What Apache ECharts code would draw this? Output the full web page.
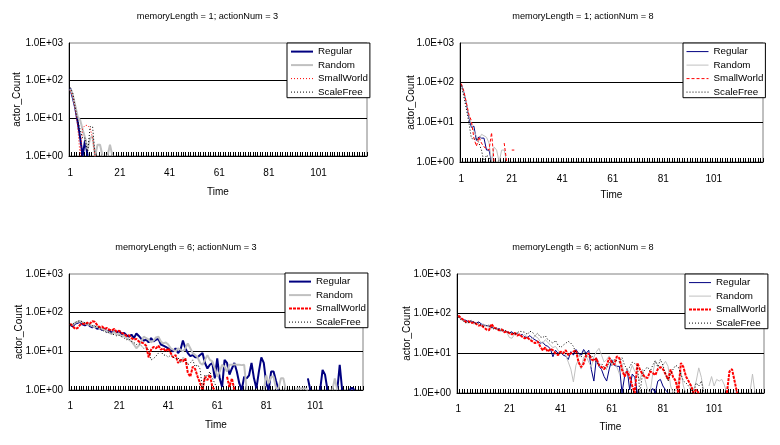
<!DOCTYPE html>
<html><head><meta charset="utf-8">
<script src="https://cdn.jsdelivr.net/npm/echarts@6/dist/echarts.min.js"></script>
<style>html,body{margin:0;padding:0;background:#fff}#c{width:780px;height:445px}</style>
</head><body><div id="c"></div>
<script>
const categories = [1,2,3,4,5,6,7,8,9,10,11,12,13,14,15,16,17,18,19,20,21,22,23,24,25,26,27,28,29,30,31,32,33,34,35,36,37,38,39,40,41,42,43,44,45,46,47,48,49,50,51,52,53,54,55,56,57,58,59,60,61,62,63,64,65,66,67,68,69,70,71,72,73,74,75,76,77,78,79,80,81,82,83,84,85,86,87,88,89,90,91,92,93,94,95,96,97,98,99,100,101,102,103,104,105,106,107,108,109,110,111,112,113,114,115,116,117,118,119,120];
const yTickLabels = ['1.0E+00','1.0E+01','1.0E+02','1.0E+03'];
const seriesNames = ['Regular','Random','SmallWorld','ScaleFree'];
const panelTitles = ['memoryLength = 1; actionNum = 3','memoryLength = 1; actionNum = 8','memoryLength = 6; actionNum = 3','memoryLength = 6; actionNum = 8'];
const xAxisName = 'Time';
const yAxisName = 'actor_Count';

// memoryLength = 1; actionNum = 3
const p1Regular = [62,36,19,8,3,1,2.7,1];
const p1Random = [60,42,22,11,9,5,3,1.5,3,3.3,1,2,2,1,null,1,2,1];
const p1SmallWorld = [55,40,18,6,1,5.5,6.5,6.5,5.5,3,1];
const p1ScaleFree = [66,48,20,9,5,3,3,1.2,6,6,1];

// memoryLength = 1; actionNum = 8
const p2Regular = [92,58,30,13.5,7.5,8,3.5,4.3,4,4,2,2,1];
const p2Random = [88,55,30,15,9,6,4.5,3.5,5,4.6,4.2,3,1,2.4,2,1,2,2,1];
const p2SmallWorld = [95,62,32,16,11,4,2.5,4.3,3,2.4,2.2,2,5.5,1,null,null,null,3,1,null,2,2];
const p2ScaleFree = [85,45,22,10,4,3.7,4,3,2,1,1.5,1.3,1];

// memoryLength = 6; actionNum = 3
const p3Regular = [48,44,52,55,58,50,47,52,45,42,
 44,38,40,36,38,32,35,30,33,31,
 34,28,30,26,24,27,22,29,25,21,
 19,20,17,22,18,20,21,15,14,13,
 12,11,10,12,9,11,19,12,9,7.5,
 8,7,7,8,9,5,3.6,4.5,5,2,
 6.6,2,1.2,6,5,2.5,3.6,5,3,1.5,
 1,2.2,2,2.4,5,2,1.1,3,7,5,
 1.5,1,3,3,1.7,1,null,null,null,null,
 null,null,null,null,null,null,null,2,1,null,
 null,null,1,3.3,2.5,1,null,null,null,1,
 4.5,1,null,null,1,1.15,1];
const p3Random = [50,48,55,58,60,56,52,50,48,45,
 42,44,40,38,36,33,30,28,32,27,
 28,24,26,22,20,18,15,12,14,18,
 24,22,20,17,19,23,24,18,16,17,
 15,12,11,10,12,11,10,12,16,12,
 9,8,7,5,4.5,6,8,6,5.5,3.6,
 2.2,3,4.5,4,3,4.5,4.5,4.6,4.5,4.5,
 4.4,4.5,1,null,null,null,null,null,null,1,
 2.4,1.5,2.2,2.2,1.1,1.1,2,2,1,null,
 null,null,1.1,1.1,1.1,1.1,1.1,1,null,null,
 null,null,null,null,null,null,null,1,2,1];
const p3SmallWorld = [52,45,38,40,48,52,50,55,52,60,
 58,48,42,44,38,40,36,35,38,32,
 34,30,28,25,26,22,20,21,18,17,
 16,14,7,11,13,12,14,11,12,10,
 12,9,7,8,5,6,5.5,6.6,2.8,2.2,
 4,3.5,2.2,1.5,1,2.2,1.8,2.5,1.2,1,
 null,null,null,null,2.2,1.2,2,1];
const p3ScaleFree = [48,50,55,60,62,58,55,50,48,46,
 44,42,40,35,33,30,32,28,27,25,
 26,24,22,20,21,18,17,15,16,14,
 12,13,11,6,6.5,7.5,9,10,8,8,
 7,8,7,6.5,7,5,7,6,4.5,5,
 6,4,4.5,3.5,1,2.5,2.2,3,2,1.5,
 1];

// memoryLength = 6; actionNum = 8
const p4Regular = [88,75,70,68,62,65,60,58,62,55,
 52,50,48,45,44,40,42,38,36,35,
 33,35,30,32,28,30,26,25,28,24,
 22,20,18,19,16,15,13,8.2,12,10,
 11,9,8.5,7,11,9,12.5,10,9,12.5,
 10,12,3.9,2,7.7,4.7,3.9,2.6,2,4,
 6.9,5,4.7,4.7,1,2.6,4,1.2,3,2.5,
 1,null,null,null,null,1,1.3,1,2,2.2,
 1.5,1.2,1];
const p4Random = [85,72,66,60,58,62,55,60,52,50,
 55,48,46,42,45,40,38,42,36,33,
 25,24,30,34,28,26,30,25,22,24,
 27,25,20,18,22,19,16,14,15,12,
 10,11,9,6,4,1.9,5,7,4,8,
 8.5,6,4.5,8,11,13.4,9,6,7,8.6,
 5,6.5,4.5,3,5.5,2.6,4,3.2,5,3.5,
 3,2,4,2.2,1.2,1,3,6.5,5,4,
 5,6.3,4.7,1.5,1,1.2,2,3.5,1.5,1,
 null,1.5,1.2,2,4.3,2.5,1,null,1.5,2.6,
 1.5,2.2,2,2.2,1.6,1,null,null,1.2,1,
 null,null,null,null,1,3,1];
const p4SmallWorld = [90,78,70,62,65,58,60,55,50,52,
 45,40,38,55,44,42,38,40,34,36,
 32,30,33,28,30,26,24,25,22,20,
 18,20,15,12,14,11,13,12,10,9,
 11,10,12,9,10,11,12,6,4.5,5.5,
 9,10,7,6.5,7.5,5,4.5,4,5,7.7,
 6,5.2,8.4,7.5,3.9,2.6,3.5,2.6,1.5,1,
 5.7,3.9,3,2.5,2.4,3.5,3.2,2.8,4,4.5,
 4,3,2.2,3.9,2.5,2,1,5.7,4.5,2.6,
 2,1.5,1,1.2,1,null,null,null,null,null,
 null,null,null,null,null,1,3.5,4,2,1];
const p4ScaleFree = [82,70,65,58,60,68,62,55,58,50,
 48,50,52,46,40,44,38,36,40,35,
 32,34,30,33,36,35,34,30,36,34,
 28,32,26,25,28,22,20,18,21,16,
 14,16,18,20,18,15,10,9,8,11,
 9,8,9,7,6,5,5.5,4.5,4,6,
 5,7,6.5,6,7.8,5,4,4.5,6,5.5,
 5,1,3,4,4.5,3.5,5,6.5,4.5,7,
 5,3,2,3,4,5,4.5,3,2,1.8,
 1.5,1.2,1,1.8,1.5,2,1];

const FONT = 'Liberation Sans, Arial, sans-serif';
const NAVY = '#000080', GRAY = '#C0C0C0', RED = '#FF0000', BLACK = '#000000';
const thickStyles = [
  {color: NAVY, width: 2, type: 'solid'},
  {color: GRAY, width: 2, type: 'solid'},
  {color: RED, width: 1, type: [1, 2]},
  {color: BLACK, width: 1, type: [1, 2]}
];
const thinStyles = [
  {color: NAVY, width: 1, type: 'solid'},
  {color: GRAY, width: 1, type: 'solid'},
  {color: RED, width: 1, type: [3, 2]},
  {color: BLACK, width: 1, type: [1, 2]}
];
const p3Styles = [
  {color: NAVY, width: 2, type: 'solid'},
  {color: GRAY, width: 2, type: 'solid'},
  {color: RED, width: 2, type: [3, 1]},
  {color: BLACK, width: 1, type: [1, 2]}
];
const p4Styles = [
  {color: NAVY, width: 1, type: 'solid'},
  {color: GRAY, width: 1, type: 'solid'},
  {color: RED, width: 2, type: [3, 1]},
  {color: BLACK, width: 1, type: [1, 2]}
];

const panels = [
  {grid: {left: 69, top: 43, width: 298, height: 113}, title: [207.5, 16], legend: [287, 43], yGap: 47, xGap: 31, xMargin: 12,
   data: [p1Regular, p1Random, p1SmallWorld, p1ScaleFree], styles: thickStyles},
  {grid: {left: 460, top: 43, width: 303, height: 119}, title: [583, 16], legend: [683, 43], yGap: 44, xGap: 28.5, xMargin: 12.5,
   data: [p2Regular, p2Random, p2SmallWorld, p2ScaleFree], styles: thinStyles},
  {grid: {left: 69, top: 274, width: 294, height: 116}, title: [186, 247], legend: [285, 273], yGap: 44.5, xGap: 30, xMargin: 11.5,
   data: [p3Regular, p3Random, p3SmallWorld, p3ScaleFree], styles: p3Styles},
  {grid: {left: 457, top: 274, width: 307, height: 119}, title: [583, 247], legend: [685, 274], yGap: 45, xGap: 29.5, xMargin: 11.5,
   data: [p4Regular, p4Random, p4SmallWorld, p4ScaleFree], styles: p4Styles}
];

const chart = echarts.init(document.getElementById('c'), null, {renderer: 'canvas'});
const option = {
  animation: false,
  backgroundColor: '#ffffff',
  textStyle: {fontFamily: FONT},
  graphic: panels.map((p, k) => ({
    type: 'text', x: p.title[0], y: p.title[1], z: 10,
    style: {text: panelTitles[k], fill: '#000', fontSize: 9.2, fontFamily: FONT,
            textAlign: 'center', textVerticalAlign: 'middle', verticalAlign: 'middle'}
  })),
  grid: panels.map(p => Object.assign({show: true, borderColor: '#808080', borderWidth: 1,
    backgroundColor: 'transparent', containLabel: false, outerBoundsMode: 'none'}, p.grid)),
  legend: panels.map((p, k) => ({
    left: p.legend[0], top: p.legend[1], orient: 'vertical',
    data: seriesNames.map(n => n + '#' + k),
    formatter: n => n.split('#')[0],
    itemWidth: 22, itemHeight: 14, itemGap: 2.3,
    padding: [3, 2, 0, 3],
    borderColor: '#000', borderWidth: 1, borderRadius: 0, backgroundColor: '#fff',
    textStyle: {fontFamily: FONT, fontSize: 9.8, color: '#000'},
    itemStyle: {color: 'rgba(0,0,0,0)', borderWidth: 0, borderColor: 'rgba(0,0,0,0)'},
    lineStyle: {width: 'inherit', type: 'inherit', color: 'inherit'},
    selectedMode: false
  })),
  xAxis: panels.map((p, k) => ({
    type: 'category', gridIndex: k, data: categories, boundaryGap: true,
    axisLine: {show: true, lineStyle: {color: '#000', width: 1}},
    axisTick: {show: true, inside: true, length: 4, interval: 0, lineStyle: {color: '#000'}},
    axisLabel: {interval: 19, margin: p.xMargin, color: '#000', fontSize: 10, fontFamily: FONT},
    splitLine: {show: false},
    name: xAxisName, nameLocation: 'middle', nameGap: p.xGap, nameMoveOverlap: false,
    nameTextStyle: {color: '#000', fontSize: 10, fontFamily: FONT}
  })),
  yAxis: panels.map((p, k) => ({
    type: 'log', logBase: 10, min: 1, max: 1000, gridIndex: k,
    axisLine: {show: true, lineStyle: {color: '#000', width: 1}},
    axisTick: {show: false},
    axisLabel: {margin: 6, color: '#000', fontSize: 10, fontFamily: FONT,
      formatter: v => yTickLabels[Math.round(Math.log10(v))]},
    splitLine: {show: true, showMinLine: false, showMaxLine: false, lineStyle: {color: '#000', width: 1}},
    name: yAxisName, nameLocation: 'middle', nameGap: p.yGap, nameMoveOverlap: false,
    nameTextStyle: {color: '#000', fontSize: 10, fontFamily: FONT}
  })),
  series: []
};
panels.forEach((p, k) => {
  seriesNames.forEach((n, j) => {
    option.series.push({
      name: n + '#' + k, type: 'line', xAxisIndex: k, yAxisIndex: k,
      data: p.data[j], symbol: 'none', showSymbol: false, connectNulls: false,
      legendIcon: 'none',
      lineStyle: p.styles[j], itemStyle: {color: p.styles[j].color},
      emphasis: {disabled: true}
    });
  });
});
chart.setOption(option);
</script>
</body></html>
